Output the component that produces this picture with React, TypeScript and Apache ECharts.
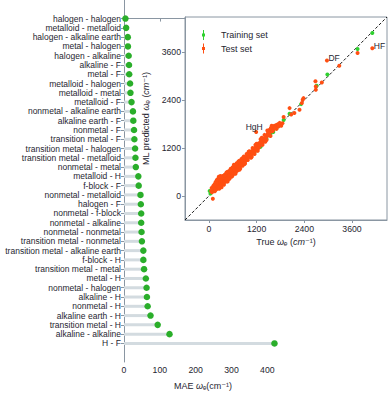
import React, { useEffect, useRef } from "react";
import * as echarts from "echarts";

const categories = [
  "halogen - halogen", "metalloid - metalloid", "halogen - alkaline earth", "metal - halogen",
  "halogen - alkaline", "alkaline - F", "metal - F", "metalloid - halogen", "metalloid - metal",
  "metalloid - F", "nonmetal - alkaline earth", "alkaline earth - F", "nonmetal - F",
  "transition metal - F", "transition metal - halogen", "transition metal - metalloid",
  "nonmetal - metal", "metalloid - H", "f-block - F", "nonmetal - metalloid", "halogen - F",
  "nonmetal - f-block", "nonmetal - alkaline", "nonmetal - nonmetal", "transition metal - nonmetal",
  "transition metal - alkaline earth", "f-block - H", "transition metal - metal", "metal - H",
  "nonmetal - halogen", "alkaline - H", "nonmetal - H", "alkaline earth - H", "transition metal - H",
  "alkaline - alkaline", "H - F",
];
const maeValues = [
  4, 6, 10.5, 11, 13, 14, 14.5, 17, 18, 21, 25, 26, 28, 29, 31, 32, 33, 40, 41, 46, 47, 48, 48, 49,
  50, 54, 54, 56, 61, 63, 64, 66, 74, 94, 127, 420,
];
const maeTicks = [0, 100, 200, 300, 400];
const parityTicks = [0, 1200, 2400, 3600];

const trainingSet = [
  [40, 60], [20, 125], [150, 180], [260, 230], [300, 280], [420, 440], [520, 540], [650, 670],
  [700, 690], [780, 800], [900, 910], [1050, 1060], [1150, 1100], [1250, 1270], [1300, 1230],
  [1350, 1360], [1450, 1430], [1550, 1560], [1620, 1600], [1700, 1690], [1880, 1900],
  [2030, 2060], [2320, 2300], [2710, 2760], [2980, 3040], [3740, 3680], [4110, 4080],
];
const testSet = [
  [60, 120], [80, 95], [95, 150], [100, -70], [110, 170], [120, 140], [130, 200], [140, 160],
  [150, 120], [155, 230], [160, 190], [170, 150], [175, 260], [180, 210], [190, 175], [200, 240],
  [205, 300], [210, 190], [215, 270], [220, 380], [225, 230], [230, 330], [240, 260], [245, 210],
  [250, 300], [255, 350], [260, 280], [270, 240], [275, 320], [280, 360], [290, 300], [295, 270],
  [300, 340], [305, 400], [310, 310], [320, 350], [325, 290], [330, 380], [340, 330], [345, 420],
  [350, 360], [360, 320], [365, 390], [370, 430], [380, 370], [390, 400], [395, 350], [400, 430],
  [410, 460], [420, 390], [430, 450], [440, 500], [450, 420], [455, 470], [460, 530], [470, 450],
  [480, 500], [490, 540], [500, 470], [505, 520], [510, 580], [520, 500], [530, 550], [540, 520],
  [550, 600], [560, 540], [570, 580], [575, 630], [580, 560], [590, 610], [600, 650], [610, 590],
  [620, 640], [630, 690], [640, 620], [650, 660], [660, 720], [670, 650], [680, 700], [690, 740],
  [700, 680], [710, 730], [720, 780], [730, 700], [740, 760], [750, 800], [760, 740], [770, 790],
  [780, 830], [790, 760], [800, 820], [810, 870], [820, 800], [830, 850], [840, 900], [850, 830],
  [860, 880], [870, 920], [880, 860], [890, 900], [900, 950], [920, 880], [940, 980], [960, 930],
  [980, 1000], [1000, 1050], [1020, 980], [1040, 1080], [1060, 1030], [1080, 1120], [1100, 1060],
  [1120, 1150], [1140, 1180], [1160, 1120], [1180, 1220], [1200, 1250], [1220, 1180],
  [1240, 1280], [1260, 1320], [1280, 1250], [1300, 1340], [1320, 1380], [1350, 1330],
  [1380, 1420], [1400, 1450], [1420, 1400], [1450, 1480], [1480, 1560], [1500, 1520],
  [1520, 1650], [1540, 1600], [1560, 1700], [1580, 1680], [1600, 1720], [1620, 1650],
  [1650, 1760], [1680, 1720], [1700, 1780], [1750, 1740], [1800, 1790], [1850, 1820],
  [130, 260], [160, 310], [190, 330], [230, 420], [240, 440], [260, 180], [270, 470], [280, 450],
  [310, 250], [330, 460], [360, 470], [380, 280], [410, 540], [430, 360], [460, 600], [480, 400],
  [500, 620], [520, 430], [550, 680], [570, 480], [600, 720], [620, 550], [650, 760], [680, 600],
  [700, 820], [720, 640], [760, 880], [790, 690], [820, 930], [850, 760], [880, 990], [910, 820],
  [950, 1050], [980, 900], [1020, 1120], [1060, 960], [1100, 1200], [1150, 1050], [1200, 1310],
  [1250, 1200], [1300, 1420], [1350, 1280], [1400, 1530], [1450, 1400], [1500, 1610],
  [1550, 1500], [1600, 1620], [1700, 1680], [1750, 1800], [1820, 1760],
  [70, 200], [110, 250], [140, 290], [170, 350], [200, 400], [250, 480], [290, 500], [320, 220],
  [350, 500], [390, 520], [440, 580], [470, 360], [540, 650], [590, 500], [630, 780], [670, 560],
  [740, 860], [770, 660], [860, 960], [900, 800], [1000, 1110], [1080, 980], [1170, 1280],
  [1230, 1130], [1330, 1460], [1420, 1360], [1470, 1640], [1580, 1760], [1660, 1700], [1780, 1830],
  [1190, 1600], [1880, 1980], [2030, 2200], [2070, 2040], [2150, 2080], [2280, 2160],
  [2340, 2330], [2360, 2410], [2380, 2450], [2690, 2660], [2690, 2740], [2680, 2870],
  [2840, 2840], [3280, 3260], [2970, 3390], [3740, 3580], [4110, 3700],
];
const annotationNames = ["DF", "HF", "HgH"];
const annotationPoints = [[2970, 3390], [4110, 3700], [1190, 1600]];
const parityRange = [-600, 4480];

const FONT = "'Liberation Sans', Arial, 'DejaVu Sans', sans-serif";
const AXIS = "#8a96a2";
const TXT = "#262630";
// label placement relative to the annotated point (px)
const annotationPlacement: Record<string, { dx: number; dy: number; align: string }> = {
  DF: { dx: 1.5, dy: -3, align: "left" },
  HF: { dx: 1.5, dy: -2, align: "left" },
  HgH: { dx: -2, dy: -5, align: "center" },
};

export default function App() {
  const ref = useRef<HTMLDivElement>(null);
  useEffect(() => {
    if (!ref.current) return;
    const chart = echarts.init(ref.current, null, { renderer: "svg" });
    const idx = categories.map((_, i) => i);
    const legendIcon = "path://M2,0 H3 V10 H2 Z M1,3.5 H4 V6.5 H1 Z";
    const plain = (v: number) => String(v);
    const italicName = {
      fontSize: 9, color: TXT, fontFamily: FONT,
      rich: { i: { fontStyle: "italic", fontSize: 9, color: TXT, fontFamily: FONT } },
    };
    chart.setOption({
      animation: false,
      textStyle: { fontFamily: FONT },
      grid: [
        { left: 124, top: 0, right: 108, bottom: 26, containLabel: false },
        {
          left: 185, top: 17, right: 3, bottom: 175, containLabel: false,
          show: true, borderColor: AXIS, borderWidth: 1, backgroundColor: "#fff", z: 5,
        },
      ],
      legend: {
        data: [
          { name: "Training set", icon: legendIcon, itemStyle: { color: "#2fd12f" } },
          { name: "Test set", icon: legendIcon, itemStyle: { color: "#ff4f12" } },
        ],
        orient: "vertical",
        left: 197,
        top: 25,
        itemWidth: 5,
        itemHeight: 10,
        itemGap: 3.5,
        z: 10,
        textStyle: { fontSize: 9, color: TXT, fontFamily: FONT, padding: [0, 0, 0, 10] },
      },
      xAxis: [
        {
          gridIndex: 0, type: "value", min: 0, max: 441,
          axisLine: { show: true, lineStyle: { color: AXIS } },
          axisTick: { show: true, length: 3, lineStyle: { color: AXIS }, customValues: maeTicks },
          axisLabel: { fontSize: 8.7, color: TXT, margin: 3, customValues: maeTicks, formatter: plain },
          splitLine: { show: false },
          name: "MAE {i|ω}ₑ(cm⁻¹)",
          nameLocation: "middle",
          nameGap: 19,
          nameTextStyle: italicName,
        },
        {
          gridIndex: 1, type: "value", min: parityRange[0], max: parityRange[1],
          axisLine: { show: true, onZero: false, lineStyle: { color: AXIS } },
          axisTick: { show: true, length: 3, lineStyle: { color: AXIS }, customValues: parityTicks },
          axisLabel: { fontSize: 8.7, color: TXT, margin: 4, customValues: parityTicks, formatter: plain },
          splitLine: { show: false },
          name: "True {i|ωₑ} ({i|cm}⁻¹)",
          nameLocation: "middle",
          nameGap: 17,
          nameTextStyle: italicName,
          z: 6,
        },
      ],
      yAxis: [
        {
          gridIndex: 0, type: "value", inverse: true, min: -2, max: 37,
          axisLine: { show: true, lineStyle: { color: AXIS } },
          axisTick: { show: true, length: 3, lineStyle: { color: AXIS }, customValues: idx },
          axisLabel: {
            fontSize: 8.5, color: TXT, margin: 3, customValues: idx,
            formatter: (v: number) => categories[Math.round(v)] ?? "",
          },
          splitLine: { show: false },
        },
        {
          gridIndex: 1, type: "value", min: parityRange[0], max: parityRange[1],
          axisLine: { show: true, onZero: false, lineStyle: { color: AXIS } },
          axisTick: { show: true, length: 3, lineStyle: { color: AXIS }, customValues: parityTicks },
          axisLabel: { fontSize: 8.7, color: TXT, margin: 4, customValues: parityTicks, formatter: plain },
          splitLine: { show: false },
          name: "ML predicted {i|ωₑ} ({i|cm}⁻¹)",
          nameLocation: "middle",
          nameGap: 25,
          nameTextStyle: italicName,
          z: 6,
        },
      ],
      series: [
        {
          type: "custom",
          xAxisIndex: 0, yAxisIndex: 0,
          data: maeValues.map((v, i) => [v, i]),
          encode: { x: 0, y: 1 },
          renderItem: (params: any, api: any) => {
            const s = api.coord([0, api.value(1)]);
            const e = api.coord([api.value(0), api.value(1)]);
            return {
              type: "line",
              shape: { x1: s[0], y1: s[1], x2: e[0], y2: e[1] },
              style: { stroke: "#d3dbe0", lineWidth: 3 },
            };
          },
          z: 2,
        },
        {
          type: "scatter",
          xAxisIndex: 0, yAxisIndex: 0,
          data: maeValues.map((v, i) => [v, i]),
          symbolSize: 6.5,
          itemStyle: { color: "#2aae2a", opacity: 1 },
          z: 3,
        },
        {
          type: "line",
          xAxisIndex: 1, yAxisIndex: 1,
          data: [[parityRange[0], parityRange[0]], [parityRange[1], parityRange[1]]],
          symbol: "none",
          lineStyle: { color: "#1a1a1a", width: 1, type: [3, 2] },
          z: 6,
        },
        {
          name: "Training set",
          type: "scatter",
          xAxisIndex: 1, yAxisIndex: 1,
          data: trainingSet,
          symbolSize: 4,
          itemStyle: { color: "#2fd12f", opacity: 1 },
          z: 7,
        },
        {
          name: "Test set",
          type: "scatter",
          xAxisIndex: 1, yAxisIndex: 1,
          data: testSet,
          symbolSize: 4,
          itemStyle: { color: "#ff4f12", opacity: 1 },
          z: 8,
        },
        {
          type: "custom",
          xAxisIndex: 1, yAxisIndex: 1,
          data: annotationPoints,
          encode: { x: 0, y: 1 },
          silent: true,
          renderItem: (params: any, api: any) => {
            const p = api.coord([api.value(0), api.value(1)]);
            const name = annotationNames[params.dataIndex];
            const pl = annotationPlacement[name];
            return {
              type: "text",
              x: p[0] + pl.dx,
              y: p[1] + pl.dy,
              style: {
                text: name,
                fill: TXT,
                fontSize: 8.5,
                fontFamily: FONT,
                align: pl.align,
                verticalAlign: "middle",
              },
            };
          },
          z: 9,
        },
      ],
    });
    return () => chart.dispose();
  }, []);
  return (
    <div
      ref={ref}
      style={{ position: "absolute", left: 0, top: 0, width: 390, height: 395 }}
    />
  );
}
